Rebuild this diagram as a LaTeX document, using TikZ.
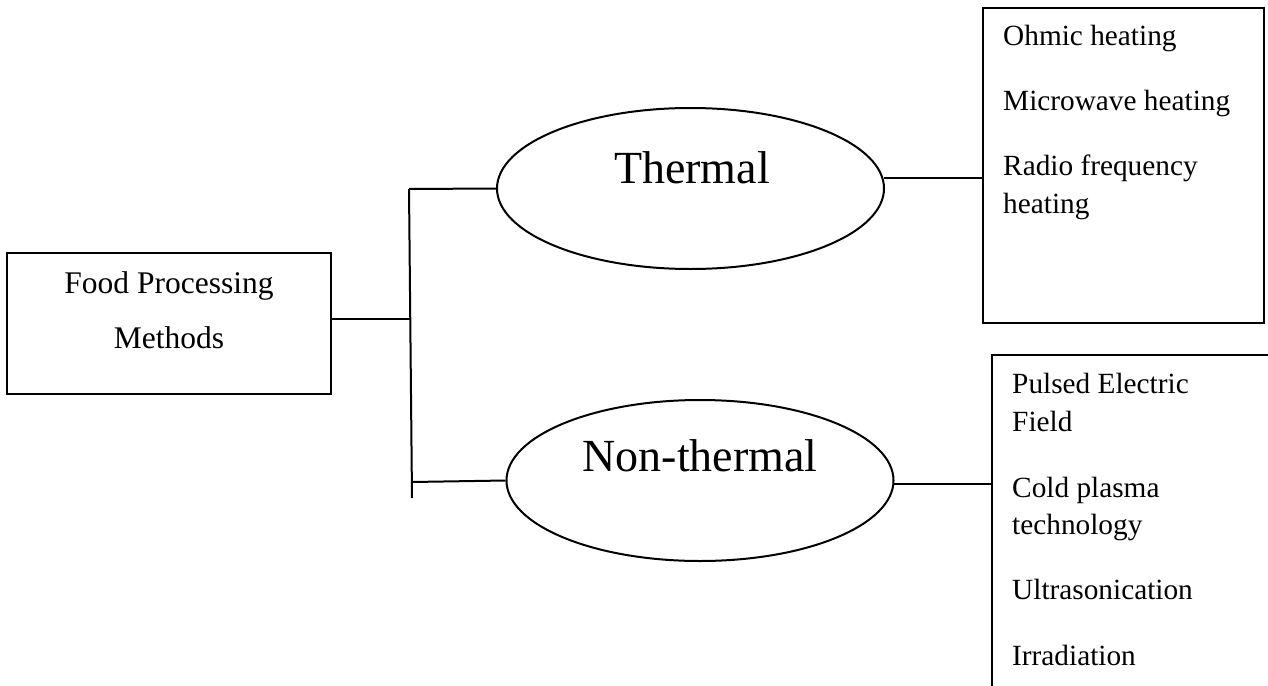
\documentclass[tikz,border=0pt]{standalone}
\usepackage{fontspec}
\setmainfont{Liberation Serif}
\usetikzlibrary{shapes.geometric}

\begin{document}
\begin{tikzpicture}[x=1pt, y=-1pt]
    \tikzset{
        boxstyle/.style={draw, rectangle, line width=2pt, inner sep=0pt},
        ovalstyle/.style={draw, ellipse, line width=2pt, inner sep=0pt, minimum width=387pt, minimum height=161pt},
        linkstyle/.style={line width=2pt},
        itemtext/.style={anchor=base west, inner sep=0pt, font=\fontsize{29.3}{35}\selectfont},
        headtext/.style={anchor=base, inner sep=0pt, font=\fontsize{31.5}{38}\selectfont},
        ovaltext/.style={anchor=base, inner sep=0pt, font=\fontsize{46}{55}\selectfont}
    }
    \useasboundingbox (0,0) rectangle (1268,685);
    \clip (0,0) rectangle (1268,685);

    % --- 1. METHODES ---
    \node[boxstyle, minimum width=324pt, minimum height=141pt] (fpm) at (169,323.5) {};
    \node[headtext] (fpmtop) at (169,293) {Food Processing};
    \node[headtext] (fpmbot) at (169,348) {Methods};

    % Bus
    \coordinate (bustop) at (409,189);
    \coordinate (busbot) at (412,498);
    \coordinate (busmid) at (410,319);
    \coordinate (buslow) at (412,482);
    \draw[linkstyle] (bustop) -- (busbot);
    \draw[linkstyle] (busmid -| fpm.east) -- (busmid);

    % --- 2. THERMAL ---
    \node[ovalstyle] (therm) at (690.5,188.5) {};
    \node[ovaltext] (thermtext) at (692,183) {Thermal};
    \draw[linkstyle] (bustop) -- (therm.west);

    \node[boxstyle, minimum width=281pt, minimum height=315pt] (tbox) at (1123.5,165.5) {};
    \draw[linkstyle] (therm.3) -- (therm.3 -| tbox.west);
    \foreach \y/\t in {46/Ohmic heating, 110/Microwave heating, 175/Radio frequency, 213/heating} {
        \node[itemtext] (titem\y) at (1003,\y) {\t};
    }

    % --- 3. NON-THERMAL ---
    \node[ovalstyle] (nontherm) at (700,480.5) {};
    \node[ovaltext] (nonthermtext) at (700,471) {Non-thermal};
    \draw[linkstyle] (buslow) -- (nontherm.west);

    \node[boxstyle, minimum width=308pt, minimum height=365pt] (nbox) at (1146,537.5) {};
    \draw[linkstyle] (nontherm.359) -- (nontherm.359 -| nbox.west);
    \foreach \y/\t in {393/Pulsed Electric, 431/Field, 497/Cold plasma, 534/technology, 599/Ultrasonication, 665/Irradiation} {
        \node[itemtext] (nitem\y) at (1012,\y) {\t};
    }

\end{tikzpicture}
\end{document}
